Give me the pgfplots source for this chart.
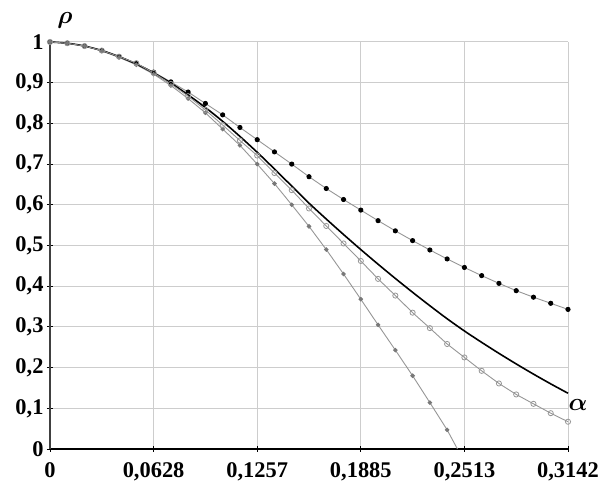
\documentclass[border=0pt]{standalone}
\usepackage{fontspec}
\setmainfont{Liberation Serif}
\usepackage{bm}
\usepackage{pgfplots}
\usepackage{pgfplotstable}
\pgfplotsset{compat=1.18}
\definecolor{gridc}{RGB}{205,205,205}
\definecolor{serc}{RGB}{150,150,150}
\definecolor{starc}{RGB}{120,120,120}

\pgfplotstableread{
a solid filled open
0        1.000 1.000 1.000
0.010472 0.997 0.997 0.997
0.020944 0.990 0.990 0.990
0.031416 0.979 0.979 0.979
0.041888 0.964 0.964 0.964
0.052360 0.946 0.947 0.948
0.062832 0.924 0.926 0.924
0.073304 0.899 0.902 0.897
0.083776 0.870 0.877 0.867
0.094248 0.839 0.849 0.833
0.104720 0.805 0.821 0.796
0.115192 0.768 0.790 0.758
0.125664 0.729 0.760 0.721
0.136136 0.688 0.730 0.678
0.146608 0.646 0.700 0.636
0.157080 0.604 0.669 0.591
0.167552 0.565 0.640 0.548
0.178024 0.527 0.613 0.505
0.188496 0.490 0.587 0.462
0.198968 0.454 0.561 0.418
0.209440 0.419 0.536 0.377
0.219911 0.385 0.512 0.335
0.230383 0.352 0.489 0.297
0.240855 0.320 0.467 0.258
0.251327 0.290 0.446 0.225
0.261799 0.262 0.426 0.192
0.272271 0.235 0.407 0.161
0.282743 0.209 0.389 0.134
0.293215 0.184 0.373 0.111
0.303687 0.160 0.358 0.088
0.314159 0.137 0.343 0.067
}\maindata

\pgfplotstableread{
a star
0        1.000
0.010472 0.997
0.020944 0.990
0.031416 0.978
0.041888 0.962
0.052360 0.944
0.062832 0.921
0.073304 0.893
0.083776 0.861
0.094248 0.826
0.104720 0.786
0.115192 0.746
0.125664 0.700
0.136136 0.652
0.146608 0.600
0.157080 0.547
0.167552 0.490
0.178024 0.430
0.188496 0.368
0.198968 0.305
0.209440 0.243
0.219911 0.180
0.230383 0.114
0.240855 0.047
}\stardata

\begin{document}
\begin{tikzpicture}
\begin{axis}[
  scale only axis, width=518bp, height=407bp,
  xmin=0, xmax=0.314159, ymin=0, ymax=1,
  axis lines=left,
  axis line style={-, line width=1.4pt},
  x axis line style={black},
  y axis line style={black!75},
  xtick={0,0.062832,0.125664,0.188496,0.251327,0.314159},
  xticklabels={0,{0,0628},{0,1257},{0,1885},{0,2513},{0,3142}},
  ytick={0,0.1,0.2,0.3,0.4,0.5,0.6,0.7,0.8,0.9,1},
  yticklabels={0,{0,1},{0,2},{0,3},{0,4},{0,5},{0,6},{0,7},{0,8},{0,9},1},
  grid=major,
  grid style={gridc, line width=1pt},
  tick style={black, line width=1pt},
  major tick length=6bp,
  tick align=center,
  ticklabel style={font=\fontsize{22.5}{25}\selectfont\bfseries},
  xticklabel style={yshift=-7bp},
  yticklabel style={xshift=0bp},
  clip=false,
]
\addplot[serc, line width=0.9pt, mark=*, mark size=2.1pt, mark options={black, fill=black}]
  table[x=a, y=filled] {\maindata};
\addplot[serc, line width=0.9pt, mark=*, mark size=1.8pt, mark options={starc, fill=starc}]
  table[x=a, y=star] {\stardata};
\addplot[serc, line width=0.9pt, forget plot] coordinates {(0.240855,0.047) (0.2471,0)};
\addplot[black, line width=1.6pt, smooth] table[x=a, y=solid] {\maindata};
\addplot[serc, line width=0.9pt, mark=o, mark size=2.6pt, mark options={serc, fill=white, line width=0.8pt}]
  table[x=a, y=open] {\maindata};
\node[anchor=center] at ([shift={(15bp,22bp)}]rel axis cs:0,1) {\fontsize{26}{28}\selectfont$\bm{\rho}$};
\node[anchor=center] at ([shift={(10bp,0bp)}]rel axis cs:1,0.108) {\fontsize{26}{28}\selectfont$\bm{\alpha}$};
\end{axis}
\pgfresetboundingbox
\path ([shift={(-50bp,-37bp)}]current axis.south west) rectangle ([shift={(34bp,42bp)}]current axis.north east);
\end{tikzpicture}
\end{document}
